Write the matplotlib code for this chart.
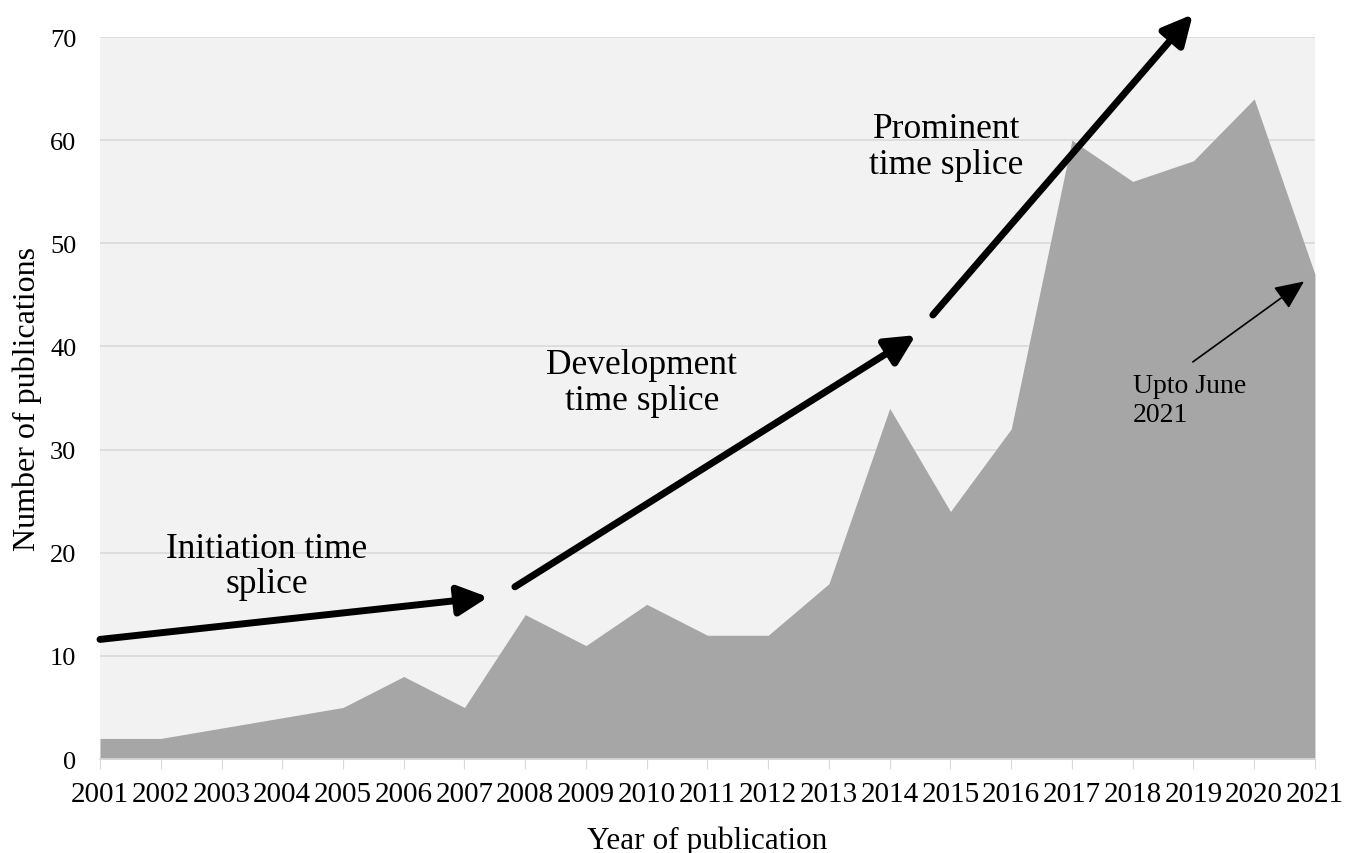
import matplotlib
matplotlib.use("Agg")
import matplotlib.pyplot as plt

years = list(range(2001, 2022))
publications = [2, 2, 3, 4, 5, 8, 5, 14, 11, 15, 12, 12, 17, 34, 24, 32, 60, 56, 58, 64, 47]
y_ticks = [0, 10, 20, 30, 40, 50, 60, 70]

plt.rcParams['font.family'] = ['Liberation Serif', 'DejaVu Serif']

fig = plt.figure(figsize=(13.57, 8.54), dpi=100)
ax = fig.add_axes([0.0737, 0.110, 0.8953, 0.8455])
ax.set_facecolor('#f2f2f2')
ax.fill_between(years, publications, 0, color='#a6a6a6', linewidth=0, zorder=2)
ax.set_xlim(2001, 2021)
ax.set_ylim(0, 70)
ax.set_yticks(y_ticks)
ax.set_xticks(years)
ax.set_xticklabels([str(y) for y in years], fontsize=21)
ax.tick_params(axis='y', labelsize=19, length=0, pad=17)
ax.tick_params(axis='x', length=7, color='#d9d9d9', pad=9, direction='out')
ax.grid(axis='y', color='#d9d9d9', linewidth=1.2, zorder=1)
ax.set_axisbelow(True)
for s in ['top', 'right', 'left']:
    ax.spines[s].set_visible(False)
ax.spines['bottom'].set_color('#d9d9d9')
ax.spines['bottom'].set_linewidth(1.2)
ax.spines['bottom'].set_zorder(3)

ax.set_xlabel('Year of publication', fontsize=22.5, labelpad=13)
ax.set_ylabel('Number of publications', fontsize=23, labelpad=6)

# Thick arrows
thick = dict(arrowstyle='-|>,head_length=1.0,head_width=0.5', color='black', lw=5,
             shrinkA=0, shrinkB=0, mutation_scale=18)
ax.annotate('', xy=(2007.39, 15.7), xytext=(2001.0, 11.6), arrowprops=thick,
            annotation_clip=False, zorder=5)
ax.annotate('', xy=(2014.43, 41.1), xytext=(2007.83, 16.7), arrowprops=thick,
            annotation_clip=False, zorder=5)
ax.annotate('', xy=(2018.99, 72.2), xytext=(2014.71, 43.05), arrowprops=thick,
            annotation_clip=False, zorder=5)
thin = dict(arrowstyle='-|>,head_length=1.0,head_width=0.45', color='black', lw=1.2,
            shrinkA=0, shrinkB=0, mutation_scale=18)
ax.annotate('', xy=(2020.82, 46.3), xytext=(2018.99, 38.5), arrowprops=thin,
            annotation_clip=False, zorder=5)

ax.text(2003.75, 18.7, 'Initiation time\nsplice', fontsize=25.5, ha='center', va='center',
        linespacing=1.1, zorder=6)
ax.text(2009.92, 36.5, 'Development\ntime splice', fontsize=25.5, ha='center', va='center',
        linespacing=1.1, zorder=6)
ax.text(2014.93, 59.4, 'Prominent\ntime splice', fontsize=25.5, ha='center', va='center',
        linespacing=1.1, zorder=6)
ax.text(2018.0, 34.8, 'Upto June\n2021', fontsize=20, ha='left', va='center',
        linespacing=1.25, zorder=6)

fig.savefig('out.png', dpi=100)
